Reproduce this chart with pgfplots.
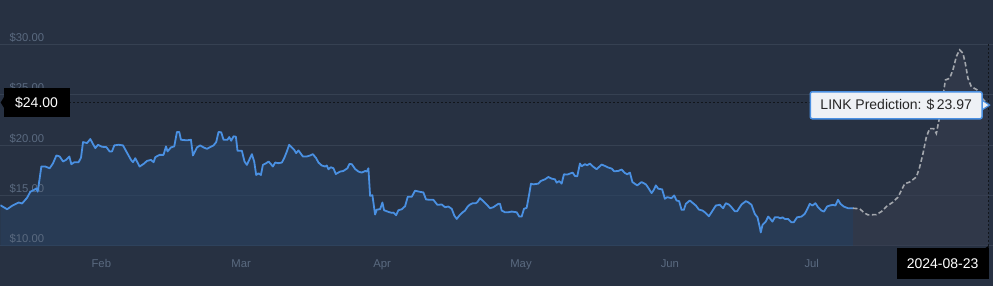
\documentclass[border=0pt]{standalone}
\usepackage{pgfplots}
\pgfplotsset{compat=1.18}
\usepackage{pgfplotstable}
\usepackage{fontspec}
\setmainfont{Liberation Sans}
\definecolor{bgc}{HTML}{273142}
\definecolor{bluefill}{HTML}{2A4363}
\definecolor{grayfill}{HTML}{363D4F}
\definecolor{gridc}{HTML}{364152}
\definecolor{tickc}{HTML}{5A6A80}
\definecolor{bluec}{HTML}{4A90E2}
\definecolor{predc}{HTML}{A3A7AD}
\definecolor{boxfill}{HTML}{EEF1F5}
\definecolor{crossc}{HTML}{12161C}

\pgfplotstableread{
x y
0 14.03
6.7 13.63
11.7 13.97
18.3 14.3
21.7 14.2
26.7 14.77
30 15.37
33.3 15.53
36 15.7
37.3 15.37
39.3 16.7
41 17.87
45 17.87
49.3 17.7
52.7 18.2
56 18.97
59.3 18.87
62.7 18.37
65.7 18.53
69 18.87
71 18.1
74 18.3
78.3 18.3
80.7 18.77
82.7 20.3
86.7 20.2
90 20.6
92.7 20.1
95 19.7
97.7 20.03
101.7 19.83
106 19.8
109.3 19.37
111.7 19.37
114 19.97
118.3 20.03
122.7 19.97
126 19.37
130.7 18.53
132.7 18.3
135 18.7
139.3 17.87
143.3 18.13
146.7 18.43
150.7 18.53
153.3 18.3
155 18.8
159.3 19.03
163.3 19.03
165.7 19.87
167.3 19.37
170.7 19.77
174 19.87
176.7 21.3
179 21.3
180.7 20.53
186.7 20.47
190.7 20.53
192.7 18.97
196.7 19.77
200 19.97
203.3 19.77
206.7 19.63
210 19.8
213.3 19.97
216 20.3
218.3 21.3
221 21.27
223.3 20.53
227.3 20.53
229 20.8
231 20.43
233.3 20.87
235.7 20.83
237.3 19.43
241.7 19.43
244.3 18.37
246.7 18.03
249 18.53
251.7 19.1
254 18.37
256 17.03
258.3 17.2
260.7 17.03
262.7 18.03
266 18.2
268.3 18.37
270 18.2
272.7 17.87
275 18.27
278.3 18.2
281.7 18.27
284 18.7
286.7 19.37
289 20.03
291.7 19.77
294 19.53
296 19.2
298.3 19.47
302.7 18.87
306.7 18.87
310 18.97
312.7 19.1
316 18.7
318.3 18.27
321.7 17.97
325 17.87
326.7 17.97
328.3 17.6
330.7 17.8
333.3 17.7
335.7 17.13
340 17.37
343.3 17.43
347.3 17.7
349.3 18.13
351.7 18.1
355 17.63
358.3 17.37
361.7 17.27
365 17.43
366.7 17.37
368.3 17.7
370 14.97
372.3 15.03
375 13.1
376.7 13.6
380 13.63
382.3 14.3
384 13.53
388.3 13.37
391.7 13.27
393.3 13.3
396 13.03
398.3 13.53
401.7 13.63
405 13.93
407.7 14.87
411.7 14.87
415 15.47
419.3 15.37
423.3 15.3
426 14.6
430 14.57
433.3 14.57
437.3 14.07
441.7 14.1
445 13.83
448.3 13.9
451.7 13.67
454.3 13.0
456.7 12.67
459.3 13.0
462.7 13.33
465 13.5
467.7 13.9
470 14.1
472.7 14.23
475.7 14.23
477.3 14.33
480 14.73
483.3 14.43
486.7 14.1
490 13.73
493.3 13.83
498.3 14.17
500 14.17
501.7 13.5
505 13.33
508.3 13.33
511.7 13.4
516.7 13.33
519.3 12.9
521.7 12.9
524 13.67
526.7 13.77
529.3 15.17
531 16.17
533.3 16.1
538.3 16.17
540.7 16.43
545 16.6
548.3 16.83
551.7 16.67
555 16.6
556.7 16.27
559.3 16.43
561.7 16.17
564 17.1
567.3 17.07
570 17.17
572.7 17.27
575 16.93
577.3 16.9
580 18.17
581.7 17.9
585 18.1
587.3 18.0
590 18.17
592.7 17.9
596.7 17.6
601.7 18.07
605 17.93
608.3 17.77
611.7 17.67
614.3 17.4
618.3 17.43
621.7 17.57
625 17.23
627.3 17.1
630 17.27
632.5 16.33
637.3 16.0
641.7 16.33
646 16.1
648.3 15.77
651.7 15.23
654 15.57
656 16.0
658.3 15.67
662.3 15.6
665 14.67
667.3 14.83
671.7 14.73
674.3 15.0
676.7 14.5
679.3 14.43
681.7 13.57
684 13.57
686 14.17
690 14.5
692.7 14.27
696 14.0
699 13.6
702.7 13.5
705 13.33
709 12.93
711.7 13.33
716 14.0
720 14.07
723.3 13.73
726 14.23
729 14.1
731.7 13.83
735 13.43
737.3 13.43
741.7 14.1
746 14.43
748.3 14.33
751.7 14.07
755 13.17
757.7 12.83
760 11.83
761 11.33
762.7 12.07
766 12.4
768.3 12.9
770 12.73
772.7 12.4
775 12.83
778.3 12.83
780.7 12.73
782.7 12.83
785 12.67
788.3 12.67
791.7 12.33
794 12.33
797.3 12.83
801.7 12.9
805 13.17
807.7 13.67
810 14.17
812.7 14.0
815.7 14.23
818.3 13.83
821.7 13.5
824.3 13.4
827.3 13.9
830 14.0
833.3 14.07
835.7 14.0
838.3 14.57
840.7 14.17
844 13.9
848.3 13.73
853.3 13.73
}\bluedata

\pgfplotstableread{
x y
853.3 13.73
860 13.67
865 13.24
868.3 13.07
876.7 13.1
881.7 13.4
886.7 13.9
893.3 14.34
898.3 14.83
901.7 15.5
905 16.16
910 16.33
916.7 16.83
920 17.82
923.3 19.15
926.7 20.81
930 21.64
934 21.64
936.7 21.15
939.3 22.47
943.3 24.8
945.7 26.46
950 26.63
953.3 27.46
956.7 28.79
960 29.45
963.3 29.12
965.7 28.12
968.3 26.63
971.7 25.8
976.7 25.53
980 25.3
983 24.6
989 23.97
}\preddata

\begin{document}
\begin{tikzpicture}
\begin{axis}[
  width=993pt, height=286pt, scale only axis,
  xmin=0, xmax=993, ymin=6.032, ymax=34.405,
  axis background/.style={fill=bgc},
  axis line style={draw=none},
  tick style={draw=none},
  ytick={10,15,20,25,30},
  yticklabels={},
  yticklabel style={anchor=west, xshift=12pt},
  ymajorgrids,
  grid style={color=gridc, line width=0.8pt},
  xtick={101,241,382,521,670,812},
  xticklabels={Feb,Mar,Apr,May,Jun,Jul},
  xticklabel style={anchor=base, yshift=18.7pt,
    font=\fontsize{11.3}{13}\selectfont, text=tickc},
]
% area fills (semi-transparent so the grid shows through)
\addplot[fill=bluefill, fill opacity=0.6, draw=none] table {\bluedata}
  -- (axis cs:853.3,10) -- (axis cs:0,10) -- cycle;
\addplot[fill=grayfill, fill opacity=0.6, draw=none] table {\preddata}
  -- (axis cs:989,10) -- (axis cs:853.3,10) -- cycle;
% y tick labels above the fills, below the lines
\begin{scope}[every node/.style={anchor=base west, text=tickc,
    font=\fontsize{11.3}{13}\selectfont, xshift=5.7pt, yshift=3pt}]
\node at (axis cs:0,10) {\$10.00};
\node at (axis cs:0,15) {\$15.00};
\node at (axis cs:0,20) {\$20.00};
\node at (axis cs:0,25) {\$25.00};
\node at (axis cs:0,30) {\$30.00};
\end{scope}
% lines
\addplot[bluec, line width=1.8pt, line join=round] table {\bluedata};
\addplot[predc, line width=1.6pt, dash pattern=on 4.5pt off 2.5pt] table {\preddata};
% crosshair
\draw[crossc, line width=0.8pt, dash pattern=on 2pt off 2pt]
  (axis cs:69,24.23) -- (axis cs:989,24.23);
\draw[crossc, line width=0.8pt, dash pattern=on 2pt off 2pt]
  (axis cs:989,30) -- (axis cs:989,10);
% $24.00 label
\fill[black] (axis cs:0.3,24.23) -- (axis cs:3.5,24.75) -- (axis cs:3.5,23.71) -- cycle;
\node[fill=black, text=white, anchor=west, minimum height=29pt, minimum width=66pt,
  inner sep=0pt, font=\fontsize{14}{16}\selectfont] at (axis cs:3,24.23) {\$24.00};
% prediction label
\filldraw[draw=bluec, fill=boxfill, line width=1.2pt]
  (axis cs:981,24.55) -- (axis cs:990,23.97) -- (axis cs:981,23.4) -- cycle;
\node[draw=bluec, line width=1.5pt, fill=boxfill, rounded corners=2pt, text=black!85,
  minimum height=27pt, minimum width=172pt, inner sep=0pt,
  font=\fontsize{14}{16}\selectfont] at (axis cs:896.5,23.95) {LINK Prediction: \$\,23.97};
% date label
\fill[black] (axis cs:979,9.3) -- (axis cs:989,10.0) -- (axis cs:989,9.3) -- cycle;
\node[fill=black, text=white, minimum height=31pt, minimum width=92pt, inner sep=0pt,
  font=\fontsize{14}{16}\selectfont] at (axis cs:943,8.26) {2024-08-23};
\end{axis}
\end{tikzpicture}
\end{document}
